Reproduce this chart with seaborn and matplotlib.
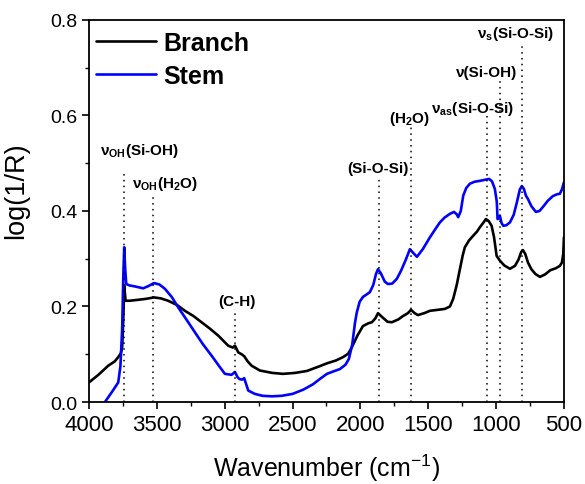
import matplotlib
matplotlib.use('Agg')
import matplotlib.pyplot as plt
import seaborn as sns
import pandas as pd

# Branch spectrum (wavenumber cm-1, log(1/R))
branch_wn = [4000, 3930, 3858, 3810, 3784, 3765, 3755, 3746, 3740, 3730, 3700, 3637,
             3580, 3521, 3470, 3416, 3350, 3293, 3230, 3170, 3110, 3047, 2974, 2940,
             2924, 2900, 2875, 2856, 2830, 2801, 2740, 2650, 2570, 2480, 2394, 2300,
             2246, 2180, 2128, 2090, 2062, 2020, 1981, 1940, 1915, 1890, 1870, 1840,
             1800, 1768, 1720, 1686, 1650, 1627, 1600, 1576, 1530, 1487, 1430, 1377,
             1340, 1316, 1290, 1266, 1245, 1230, 1200, 1169, 1140, 1119, 1095, 1075,
             1055, 1033, 1015, 996, 972, 940, 898, 861, 835, 815, 802, 785,
             765, 740, 710, 677, 640, 600, 560, 530, 515, 505, 500]
branch_val = [0.041, 0.057, 0.076, 0.085, 0.094, 0.102, 0.115, 0.180, 0.244, 0.212, 0.212, 0.214,
              0.216, 0.219, 0.217, 0.212, 0.203, 0.191, 0.180, 0.167, 0.154, 0.139, 0.118, 0.114,
              0.118, 0.104, 0.100, 0.096, 0.085, 0.076, 0.066, 0.061, 0.059, 0.061, 0.065, 0.075,
              0.081, 0.087, 0.094, 0.101, 0.115, 0.140, 0.159, 0.165, 0.167, 0.175, 0.186, 0.178,
              0.168, 0.167, 0.173, 0.180, 0.186, 0.193, 0.186, 0.182, 0.186, 0.191, 0.193, 0.195,
              0.200, 0.216, 0.245, 0.279, 0.308, 0.324, 0.338, 0.348, 0.357, 0.366, 0.375, 0.383,
              0.379, 0.369, 0.345, 0.306, 0.296, 0.286, 0.279, 0.285, 0.298, 0.314, 0.318, 0.310,
              0.292, 0.278, 0.268, 0.262, 0.267, 0.276, 0.280, 0.285, 0.292, 0.310, 0.345]

# Stem spectrum
stem_wn = [3882, 3833, 3784, 3768, 3755, 3747, 3740, 3733, 3725, 3700, 3661, 3600,
           3560, 3521, 3480, 3440, 3390, 3342, 3280, 3219, 3160, 3096, 3040, 2998,
           2949, 2924, 2905, 2890, 2870, 2856, 2826, 2777, 2720, 2650, 2580, 2500,
           2420, 2350, 2290, 2246, 2200, 2151, 2110, 2085, 2060, 2040, 2026, 2005,
           1981, 1955, 1930, 1905, 1885, 1870, 1850, 1820, 1797, 1765, 1731, 1700,
           1665, 1635, 1610, 1583, 1540, 1487, 1450, 1414, 1380, 1340, 1310, 1290,
           1279, 1260, 1242, 1220, 1193, 1160, 1119, 1085, 1051, 1030, 1009, 995,
           989, 980, 972, 960, 947, 925, 898, 870, 845, 825, 810, 795,
           780, 765, 740, 707, 680, 650, 620, 582, 550, 530, 515, 500]
stem_val = [0.000, 0.020, 0.041, 0.075, 0.153, 0.260, 0.324, 0.280, 0.247, 0.244, 0.242, 0.238,
            0.243, 0.249, 0.246, 0.237, 0.220, 0.198, 0.172, 0.146, 0.121, 0.097, 0.075, 0.059,
            0.057, 0.063, 0.052, 0.048, 0.047, 0.050, 0.024, 0.017, 0.013, 0.012, 0.013, 0.017,
            0.026, 0.037, 0.050, 0.059, 0.064, 0.069, 0.078, 0.090, 0.120, 0.165, 0.188, 0.210,
            0.220, 0.225, 0.230, 0.245, 0.268, 0.278, 0.270, 0.252, 0.247, 0.248, 0.258, 0.275,
            0.298, 0.320, 0.312, 0.304, 0.320, 0.345, 0.361, 0.376, 0.386, 0.394, 0.398, 0.393,
            0.387, 0.400, 0.432, 0.448, 0.457, 0.461, 0.463, 0.465, 0.467, 0.462, 0.446, 0.420,
            0.383, 0.385, 0.390, 0.375, 0.369, 0.370, 0.376, 0.392, 0.420, 0.445, 0.452, 0.446,
            0.432, 0.425, 0.410, 0.398, 0.400, 0.410, 0.421, 0.431, 0.435, 0.436, 0.445, 0.460]

# band assignments: position, top of dotted marker, label, label centre
band_wn = [3740, 3530, 2920, 1865, 1630, 1070, 972, 810]
band_top = [0.480, 0.435, 0.195, 0.471, 0.576, 0.599, 0.672, 0.745]
band_labels = [r'ν$_{\mathregular{OH}}$(Si-OH)', r'ν$_{\mathregular{OH}}$(H$_{\mathregular{2}}$O)',
               '(C-H)', '(Si-O-Si)', r'(H$_{\mathregular{2}}$O)',
               r'ν$_{\mathregular{as}}$(Si-O-Si)', 'ν(Si-OH)', r'ν$_{\mathregular{s}}$(Si-O-Si)']
label_wn = [3624, 3440, 2910, 1870, 1640, 1170, 1067, 854]
label_y = [0.528, 0.459, 0.211, 0.490, 0.595, 0.615, 0.690, 0.773]

sns.set_style("ticks")
plt.rcParams['font.family'] = ['Liberation Sans', 'DejaVu Sans']
plt.rcParams['axes.linewidth'] = 1.3
for key in ['text.color', 'axes.labelcolor', 'xtick.color', 'ytick.color', 'axes.edgecolor']:
    plt.rcParams[key] = 'black'

fig = plt.figure(figsize=(5.85, 4.85), dpi=100)
ax = fig.add_axes([0.152, 0.169, 0.812, 0.788])

branch = pd.DataFrame({'wn': branch_wn, 'val': branch_val})
stem = pd.DataFrame({'wn': stem_wn, 'val': stem_val})
sns.lineplot(data=branch, x='wn', y='val', color='black', lw=1.9, label='Branch', ax=ax)
sns.lineplot(data=stem, x='wn', y='val', color='#0000ff', lw=1.9, label='Stem', ax=ax)

for wn, top in zip(band_wn, band_top):
    ax.vlines(wn, 0, top, colors='black', linestyles=(0, (1, 2.8)), lw=1.1)
for txt, x, y in zip(band_labels, label_wn, label_y):
    ax.text(x, y, txt, ha='center', va='center', fontsize=11, fontweight='bold')

ax.set_xlim(4000, 500)
ax.set_ylim(0, 0.8)
ax.set_xticks([4000, 3500, 3000, 2500, 2000, 1500, 1000, 500])
ax.set_xticks(range(3750, 500, -500), minor=True)
ax.set_yticks([0.0, 0.2, 0.4, 0.6, 0.8])
ax.set_yticks([0.1, 0.3, 0.5, 0.7], minor=True)
ax.tick_params(which='major', length=5, width=1.2, direction='out')
ax.tick_params(which='minor', length=3, width=1.0, direction='out')
ax.tick_params(axis='x', labelsize=16)
ax.tick_params(axis='y', labelsize=14)

ax.set_xlabel('Wavenumber (cm$^{\\mathregular{-1}}$)', fontsize=18, labelpad=12)
ax.set_ylabel('log(1/R)', fontsize=19.5)
ax.yaxis.set_label_coords(-0.125, 0.555)

ax.legend(loc='upper left', bbox_to_anchor=(0.005, 0.984), frameon=False,
          prop={'size': 18, 'weight': 'bold'}, handlelength=2.4,
          handletextpad=0.3, labelspacing=0.35, borderpad=0.2, borderaxespad=0)

fig.savefig('out.png', dpi=100)
